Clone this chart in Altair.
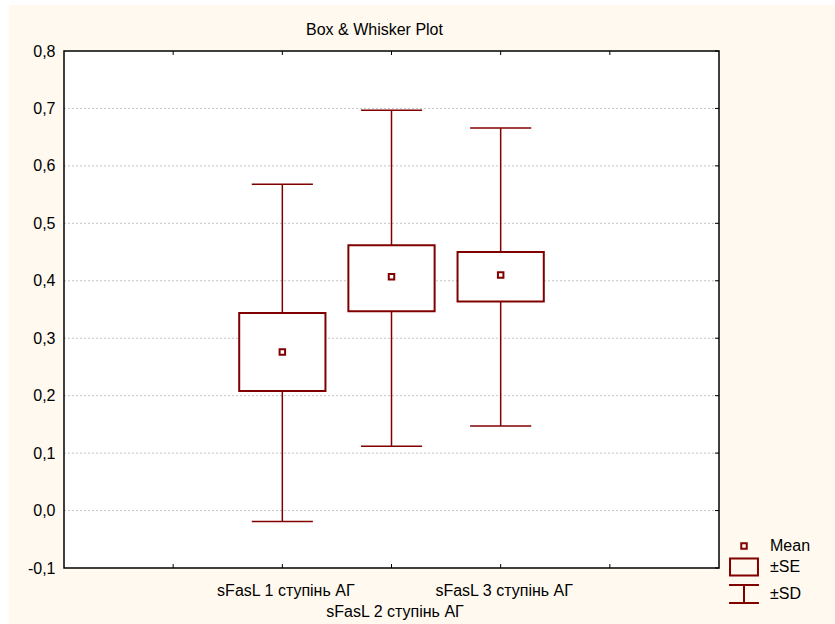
import altair as alt
import pandas as pd

# ---- data ----
TITLE = "Box & Whisker Plot"
CATEGORIES = ["sFasL 1 ступінь АГ", "sFasL 2 ступінь АГ", "sFasL 3 ступінь АГ"]
MEAN = [0.276, 0.407, 0.410]
SE_LOW = [0.208, 0.347, 0.364]
SE_HIGH = [0.344, 0.462, 0.450]
SD_LOW = [-0.019, 0.112, 0.147]
SD_HIGH = [0.568, 0.697, 0.666]
Y_TICKS = [-0.1, 0.0, 0.1, 0.2, 0.3, 0.4, 0.5, 0.6, 0.7, 0.8]
X_TICKS = [1, 2, 3, 4, 5]
LEGEND_ITEMS = ["Mean", "±SE", "±SD"]

RED = "#800000"
CREAM = "#FFF9EF"
FONT = "Liberation Sans"
FS = 16
W, H = 655, 517

df = pd.DataFrame({
    "cat": CATEGORIES,
    "pos": [i + 2 for i in range(len(CATEGORIES))],
    "mean": MEAN,
    "se_lo": SE_LOW,
    "se_hi": SE_HIGH,
    "sd_lo": SD_LOW,
    "sd_hi": SD_HIGH,
    "kind": ["Mean"] * len(CATEGORIES),
})
grid_df = pd.DataFrame({"v": Y_TICKS[1:-1]})
ytick_df = pd.DataFrame({"v": Y_TICKS})
xtick_df = pd.DataFrame({"v": X_TICKS})
one = pd.DataFrame({"t": [TITLE]})

xscale = alt.Scale(domain=[0, 6], nice=False, zero=False)
yscale = alt.Scale(domain=[-0.1, 0.8], nice=False, zero=False)

label_expr_x = (
    f"datum.value == 2 ? '{CATEGORIES[0]}' : "
    f"datum.value == 3 ? ['', '{CATEGORIES[1]}'] : "
    f"datum.value == 4 ? '{CATEGORIES[2]}' : ''"
)
X_AXIS = alt.Axis(
    values=[2, 3, 4], labelExpr=label_expr_x, domain=False, ticks=False, tickSize=0,
    grid=False, labelPadding=14, labelBaseline="top", labelLineHeight=21,
    labelOverlap=False, labelBound=False, labelFlush=False, labelOffset=3,
    labelFont=FONT, labelFontSize=FS, labelColor="#000000", zindex=1, title=None,
)
Y_AXIS = alt.Axis(
    values=Y_TICKS,
    labelExpr="(datum.value < -0.0001 ? '-' : '') + replace(format(abs(datum.value), '.1f'), '.', ',')",
    domain=False, ticks=False, tickSize=0, grid=False, labelPadding=9,
    labelFont=FONT, labelFontSize=FS, labelColor="#000000", zindex=1, title=None,
)

def X(field):
    return alt.X(field, type="quantitative", scale=xscale, axis=X_AXIS)

def Y(field):
    return alt.Y(field, type="quantitative", scale=yscale, axis=Y_AXIS)

# decorative background: cream frame and white plot area
cream = alt.Chart(one).mark_rect(color=CREAM).encode(
    x=alt.value(-55), x2=alt.value(771), y=alt.value(-46), y2=alt.value(573)
)
plotbg = alt.Chart(one).mark_rect(color="white").encode(
    x=alt.value(0), x2=alt.value(W), y=alt.value(0), y2=alt.value(H)
)
title = alt.Chart(one).mark_text(
    font=FONT, fontSize=FS, color="#000000", align="center", baseline="alphabetic"
).encode(text="t:N", x=alt.value(W / 2 - 17), y=alt.value(-16))

grid = alt.Chart(grid_df).mark_rule(color="#c4c4c4", strokeWidth=1, strokeDash=[2, 2]).encode(
    y=Y("v"), x=alt.value(0), x2=alt.value(W)
)

base = alt.Chart(df).transform_calculate(
    x_lo="datum.pos - 0.395", x_hi="datum.pos + 0.395",
    c_lo="datum.pos - 0.28", c_hi="datum.pos + 0.28",
)

whisker = base.mark_rule(color=RED, strokeWidth=1.5).encode(
    x=X("pos"), y=Y("sd_lo"), y2="sd_hi"
)
cap_hi = base.mark_rule(color=RED, strokeWidth=1.5).encode(
    x=X("c_lo"), x2="c_hi", y=Y("sd_hi")
)
cap_lo = base.mark_rule(color=RED, strokeWidth=1.5).encode(
    x=X("c_lo"), x2="c_hi", y=Y("sd_lo")
)
box = base.mark_rect(fill="white", stroke=RED, strokeWidth=2).encode(
    x=X("x_lo"), x2="x_hi", y=Y("se_lo"), y2="se_hi"
)

SHAPES = [
    "M-0.25,-0.25H0.25V0.25H-0.25Z",
    "M-1.27,-0.77H1.27V0.77H-1.27Z",
    "M-1.36,-0.82H1.36M0,-0.82V0.82M-1.36,0.82H1.36",
]
mean = base.mark_point(filled=False, color=RED, strokeWidth=2, size=484, opacity=1).encode(
    x=X("pos"), y=Y("mean"),
    shape=alt.Shape(
        "kind:N",
        scale=alt.Scale(domain=LEGEND_ITEMS, range=SHAPES),
        legend=alt.Legend(
            title=None, orient="none", legendX=668, legendY=483, padding=0,
            rowPadding=0, symbolSize=484, symbolStrokeWidth=2,
            symbolStrokeColor=RED, symbolFillColor="transparent",
            labelFont=FONT, labelFontSize=FS, labelColor="#000000", labelOffset=14,
        ),
    ),
)

xt_bottom = alt.Chart(xtick_df).mark_rule(color="black", strokeWidth=1).encode(
    x=X("v"), y=alt.value(H), y2=alt.value(H - 4)
)
xt_top = alt.Chart(xtick_df).mark_rule(color="black", strokeWidth=1).encode(
    x=X("v"), y=alt.value(0), y2=alt.value(4)
)
yt_right = alt.Chart(ytick_df).mark_rule(color="black", strokeWidth=1).encode(
    y=Y("v"), x=alt.value(W - 4), x2=alt.value(W)
)
border = alt.Chart(one).mark_rect(fill=None, stroke="black", strokeWidth=1.5).encode(
    x=alt.value(0), x2=alt.value(W), y=alt.value(0), y2=alt.value(H)
)

chart = alt.layer(
    cream, plotbg, title, grid, whisker, cap_hi, cap_lo, box, mean,
    xt_bottom, xt_top, yt_right, border,
).properties(
    width=W, height=H,
    autosize=alt.AutoSizeParams(type="none"),
    padding={"left": 64, "top": 51, "right": 116, "bottom": 56},
    background="white",
).configure_view(stroke=None, fill="white")

chart.save("out.html", embed_options={"renderer": "svg", "actions": False})
